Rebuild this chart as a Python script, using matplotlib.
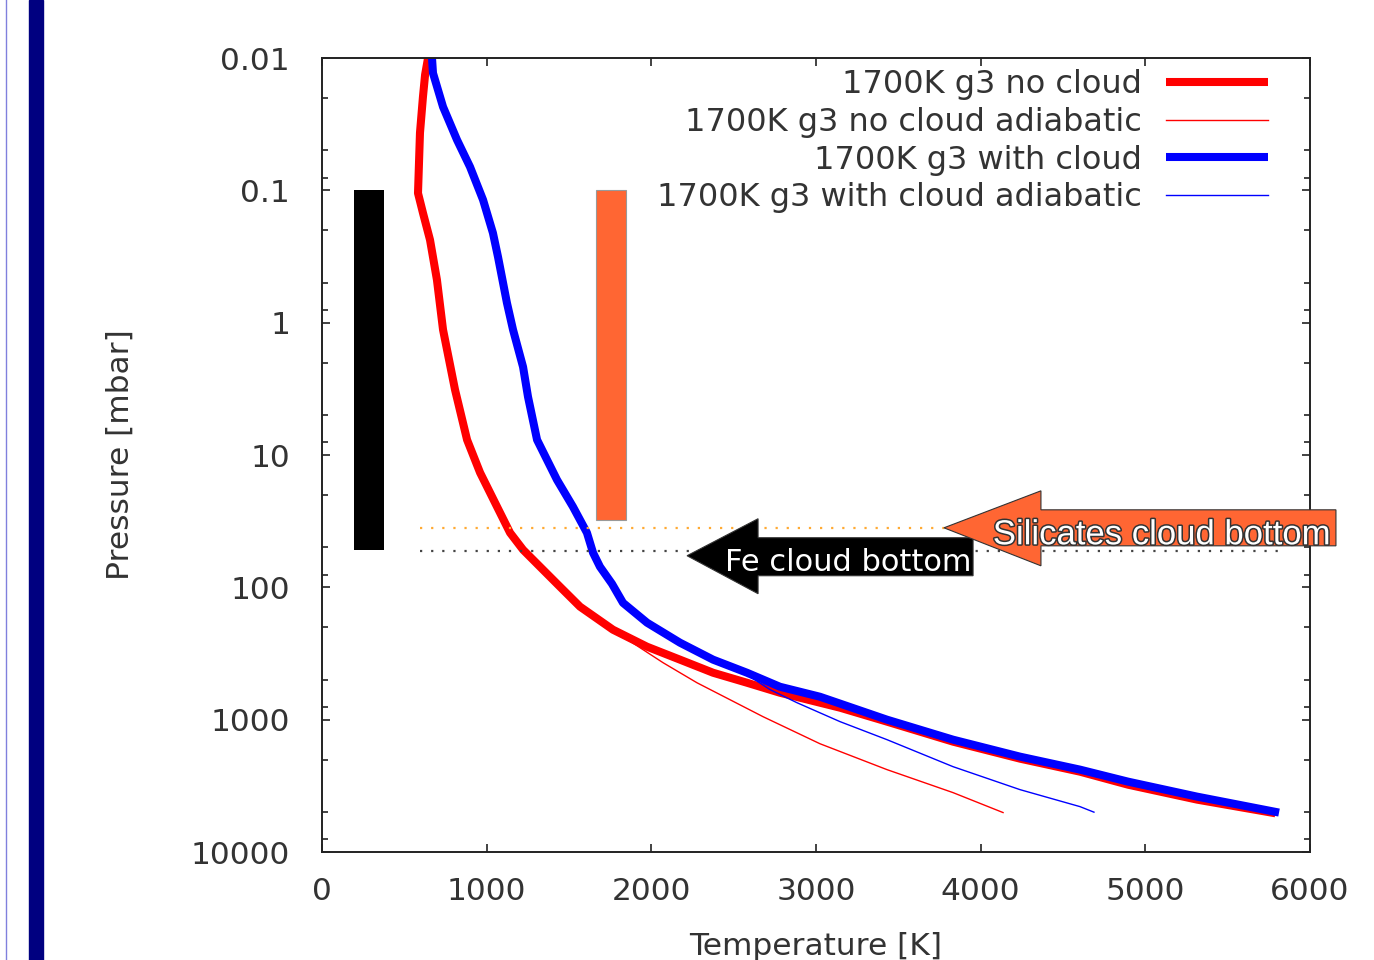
import matplotlib.pyplot as plt
import matplotlib.patheffects as pe
from matplotlib.patches import Polygon, Rectangle
from matplotlib.lines import Line2D
from matplotlib.transforms import IdentityTransform
from matplotlib.ticker import FixedLocator, LogLocator, NullFormatter

plt.rcParams['font.family'] = ['DejaVu Sans']

# T-P profiles (T in K, P in mbar)
nocloud_T = [644, 626, 613, 595, 583, 613, 656, 698, 735, 808, 881, 960, 1063, 1142, 1221,
             1324, 1445, 1567, 1767, 1974, 2174, 2375, 2581, 2781, 3146, 3431, 3832, 4239,
             4603, 4895, 5314, 5790]
nocloud_P = [0.01, 0.0134, 0.0197, 0.0368, 0.105, 0.148, 0.237, 0.475, 1.13, 3.22, 7.68, 13.6,
             24.6, 38.7, 52.0, 69.9, 98.9, 140, 209, 281, 352, 442, 526, 626, 812, 1035, 1466,
             1971, 2472, 3100, 4020, 5100]

nocloud_ad_T = [1810, 2071, 2277, 2478, 2678, 3024, 3431, 3832, 4136]
nocloud_ad_P = [228, 371, 526, 707, 949, 1520, 2385, 3558, 5035]

cloud_T = [668, 674, 735, 820, 899, 978, 1038, 1069, 1123, 1160, 1221, 1251, 1306, 1427, 1524,
           1609, 1646, 1688, 1761, 1828, 1974, 2174, 2375, 2581, 2781, 3024, 3431, 3832, 4239,
           4603, 4895, 5314, 5812]
cloud_P = [0.01, 0.013, 0.0234, 0.0416, 0.0665, 0.118, 0.210, 0.319, 0.708, 1.13, 2.16, 3.63,
           7.68, 15.4, 24.6, 38.7, 54.8, 69.9, 94, 131, 185, 262, 352, 442, 564, 671, 1000,
           1416, 1903, 2385, 2940, 3815, 5035]

cloud_ad_T = [2538, 2721, 2885, 3146, 3431, 3832, 4239, 4603, 4688]
cloud_ad_P = [422, 593, 745, 1035, 1416, 2265, 3379, 4540, 5000]

labels = ['1700K g3 no cloud', '1700K g3 no cloud adiabatic',
          '1700K g3 with cloud', '1700K g3 with cloud adiabatic']

# cloud layers (bars) and cloud-bottom levels
layer_T = [285, 1755]
layer_top = [0.1, 0.1]
layer_bottom = [52, 31]
bottom_P = [53, 35.5]          # Fe, silicates
bottom_Tmax = [5818, 3783]
arrow_tip_T = [2217, 3777]
arrow_tip_P = [57.7, 35.5]
arrow_text = ['Fe cloud bottom', 'Silicates cloud bottom']

W, H = 1374, 960
fig = plt.figure(figsize=(W / 100, H / 100), dpi=100)
ax = fig.add_axes([322 / W, 1 - 852 / H, 988 / W, 794 / H])

thick = dict(lw=5.8, solid_capstyle='butt', solid_joinstyle='round')
ax.plot(nocloud_T, nocloud_P, color='#ff0000', label=labels[0], **thick)
ax.plot(nocloud_ad_T, nocloud_ad_P, color='#ff0000', lw=1.0, label=labels[1])
ax.plot(cloud_T, cloud_P, color='#0000ff', label=labels[2], **thick)
ax.plot(cloud_ad_T, cloud_ad_P, color='#0000ff', lw=1.0, label=labels[3])

ax.set_yscale('log')
ax.set_xlim(0, 6000)
ax.set_ylim(10000, 0.01)

yt = [0.01, 0.1, 1, 10, 100, 1000, 10000]
ax.yaxis.set_major_locator(FixedLocator(yt))
ax.set_yticklabels(['0.01', '0.1', '1', '10', '100', '1000', '10000'])
ax.yaxis.set_minor_locator(LogLocator(base=10, subs=[2, 5, 8]))
ax.yaxis.set_minor_formatter(NullFormatter())
ax.set_xticks(range(0, 6001, 1000))

tc = '#333333'
ax.tick_params(which='both', direction='in', top=True, right=True, colors='#222222',
               labelcolor=tc, labelsize=22.5, width=1.2)
ax.tick_params(which='major', length=6)
ax.tick_params(which='minor', length=4)
ax.tick_params(axis='y', pad=23)
ax.tick_params(axis='x', pad=18)
for s in ax.spines.values():
    s.set_linewidth(1.4)
    s.set_color('#222222')

ax.set_xlabel('Temperature [K]', fontsize=22.5, color=tc, labelpad=19)
ax.set_ylabel('Pressure [mbar]', fontsize=22.5, color=tc, labelpad=40)

# cloud layer bars
ax.bar(layer_T[0], layer_bottom[0] - layer_top[0], bottom=layer_top[0], width=182,
       color='black', zorder=3)
ax.bar(layer_T[1], layer_bottom[1] - layer_top[1], bottom=layer_top[1], width=182,
       color='#ff6633', edgecolor='#999999', lw=0.8, zorder=3)

# cloud-bottom dotted lines
ax.plot([595, bottom_Tmax[0]], [bottom_P[0]] * 2, ls=(0, (1, 4)), color='#444444', lw=1.6)
ax.plot([595, bottom_Tmax[1]], [bottom_P[1]] * 2, ls=(0, (1, 4)), color='#ffaa33', lw=1.6)

leg = ax.legend(loc='upper right', bbox_to_anchor=(0.977, 1.01), frameon=False, fontsize=23,
                markerfirst=False, handlelength=3.2, handletextpad=0.75, labelspacing=0.21,
                borderaxespad=0.2)
for t in leg.get_texts():
    t.set_color(tc)

# arrows (shapes in pixels relative to the tip)
fe_shape = [(0, 0), (71, 37), (71, 18), (286, 18), (286, -20), (71, -20), (71, -38)]
si_shape = [(0, 0), (97, 37), (97, 18), (392, 18), (392, -18), (97, -18), (97, -38)]
shapes = [fe_shape, si_shape]
colors = ['black', '#ff6633']
text_off = [(161, -7), (218, -7)]
for i in range(2):
    tx, ty = ax.transData.transform((arrow_tip_T[i], arrow_tip_P[i]))
    pts = [(tx + dx, ty + dy) for dx, dy in shapes[i]]
    fig.add_artist(Polygon(pts, closed=True, facecolor=colors[i], edgecolor='#333333',
                           lw=0.8, transform=IdentityTransform(), zorder=5 + i))
    ox, oy = text_off[i]
    if i == 0:
        fig.text(tx + ox, ty + oy, arrow_text[i], transform=IdentityTransform(),
                 ha='center', va='center', color='white', fontsize=22, zorder=7 + i)
    else:
        fig.text(tx + ox, ty + oy, arrow_text[i], transform=IdentityTransform(),
                 ha='center', va='center', color='white', fontsize=25,
                 family='Liberation Sans', zorder=7 + i,
                 path_effects=[pe.withStroke(linewidth=2.2, foreground='#333333')])

# slide decoration on the left
fig.add_artist(Rectangle((29 / W, 0), 14 / W, 1, transform=fig.transFigure,
                         color='#000080', zorder=0))
fig.add_artist(Line2D([6 / W, 6 / W], [0, 1], transform=fig.transFigure,
                      color='#8080dd', lw=1.0))

fig.savefig('out.png', dpi=100)
